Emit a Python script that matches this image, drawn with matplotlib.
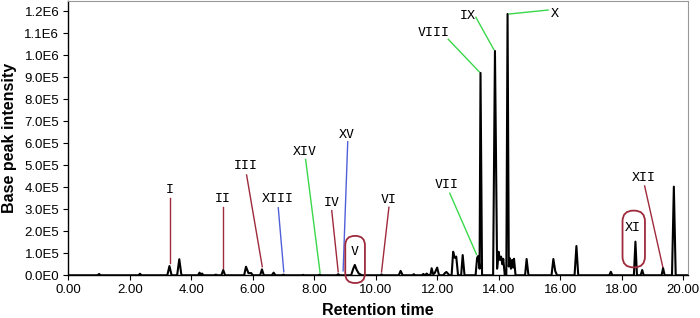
import matplotlib
matplotlib.use("Agg")
import matplotlib.pyplot as plt
from matplotlib.patches import FancyBboxPatch

# chromatogram trace: retention time (min), intensity (x1E5)
trace_t = [0.00, 0.95, 1.00, 1.05, 2.28, 2.33, 2.38, 3.22, 3.29, 3.36, 3.54, 3.61, 3.68,
           4.22, 4.27, 4.31, 4.35, 4.40, 4.75, 4.80, 4.85, 4.98, 5.04, 5.10,
           5.72, 5.78, 5.86, 5.95, 6.00, 6.24, 6.30, 6.36, 6.62, 6.68, 6.74,
           6.95, 7.00, 7.05, 7.60, 7.64, 7.68, 8.13, 8.18, 8.23, 8.73, 8.78, 8.83,
           9.20, 9.27, 9.32, 9.38, 9.45, 9.55, 10.15, 10.19, 10.23, 10.75, 10.81, 10.88,
           11.20, 11.24, 11.28, 11.50, 11.55, 11.60, 11.66, 11.70, 11.76,
           11.78, 11.82, 11.87, 11.92, 12.00, 12.06, 12.20, 12.25, 12.30, 12.40,
           12.47, 12.52, 12.57, 12.62, 12.68, 12.78, 12.83, 12.89,
           13.25, 13.30, 13.34, 13.38, 13.41, 13.46, 13.82, 13.88, 13.95,
           14.00, 14.04, 14.08, 14.12, 14.15, 14.20, 14.25, 14.29, 14.33,
           14.36, 14.40, 14.44, 14.47, 14.50, 14.55, 14.86, 14.91, 14.97,
           15.72, 15.78, 15.84, 15.90, 16.47, 16.53, 16.59, 17.60, 17.65, 17.70,
           18.40, 18.45, 18.50, 18.62, 18.67, 18.72, 19.30, 19.35, 19.40,
           19.64, 19.70, 19.76, 20.15]
trace_y = [0.00, 0.00, 0.06, 0.00, 0.00, 0.07, 0.00, 0.00, 0.42, 0.00, 0.00, 0.73, 0.00,
           0.00, 0.12, 0.02, 0.08, 0.00, 0.00, 0.03, 0.00, 0.00, 0.24, 0.00,
           0.00, 0.39, 0.10, 0.10, 0.00, 0.00, 0.27, 0.00, 0.00, 0.12, 0.00,
           0.00, 0.03, 0.00, 0.00, 0.02, 0.00, 0.00, 0.03, 0.00, 0.00, 0.05, 0.00,
           0.00, 0.30, 0.47, 0.25, 0.08, 0.00, 0.00, 0.04, 0.00, 0.00, 0.20, 0.00,
           0.00, 0.05, 0.00, 0.00, 0.06, 0.00, 0.08, 0.02, 0.00,
           0.00, 0.32, 0.05, 0.10, 0.35, 0.00, 0.00, 0.10, 0.15, 0.00,
           0.00, 1.07, 0.80, 0.85, 0.00, 0.00, 0.92, 0.00,
           0.00, 0.80, 0.88, 0.30, 9.20, 0.00, 0.00, 10.20, 0.30,
           1.07, 0.70, 0.85, 0.50, 0.75, 0.00, 0.00, 11.88, 0.40,
           0.78, 0.30, 0.70, 0.35, 0.75, 0.00, 0.00, 0.74, 0.00,
           0.00, 0.74, 0.20, 0.00, 0.00, 1.33, 0.00, 0.00, 0.16, 0.00,
           0.00, 1.53, 0.00, 0.00, 0.24, 0.00, 0.00, 0.32, 0.00,
           0.00, 4.03, 0.00, 0.00]

x_ticks = [0, 2, 4, 6, 8, 10, 12, 14, 16, 18, 20]
x_tick_labels = ["0.00", "2.00", "4.00", "6.00", "8.00", "10.00", "12.00", "14.00",
                 "16.00", "18.00", "20.00"]
y_ticks = [0, 1, 2, 3, 4, 5, 6, 7, 8, 9, 10, 11, 12]
y_tick_labels = ["0.0E0", "1.0E5", "2.0E5", "3.0E5", "4.0E5", "5.0E5", "6.0E5", "7.0E5",
                 "8.0E5", "9.0E5", "1.0E6", "1.1E6", "1.2E6"]

# annotations: label, label position, leader line start/end, colour group
ann_labels = ["I", "II", "III", "XIII", "XIV", "XV", "IV", "VI", "VII", "VIII", "IX", "X", "XII"]
ann_text_xy = [(3.31, 3.92), (5.03, 3.47), (5.77, 4.97), (6.82, 3.47), (7.70, 5.62),
               (9.05, 6.42), (8.57, 3.33), (10.41, 3.45), (12.31, 4.15), (11.89, 11.05),
               (13.01, 11.83), (15.83, 11.91), (18.72, 4.45)]
ann_line_from = [(3.31, 3.51), (5.03, 3.10), (5.80, 4.56), (6.83, 3.07), (7.72, 5.27),
                 (9.09, 6.07), (8.57, 2.94), (10.43, 3.09), (12.41, 3.73), (12.36, 10.73),
                 (13.26, 11.73), (14.34, 11.88), (18.75, 4.06)]
ann_line_to = [(3.31, 0.56), (5.03, 0.33), (6.31, 0.39), (7.01, 0.16), (8.19, 0.12),
               (8.94, 0.20), (8.78, 0.16), (10.19, 0.15), (13.28, 0.95), (13.37, 9.25),
               (13.84, 10.27), (15.61, 12.06), (19.35, 0.32)]
ann_group = ["red", "red", "red", "blue", "green", "blue", "red", "red", "green", "green",
             "green", "green", "red"]

# circled peaks: label, label position, box (x0, y0, x1, y1)
circ_labels = ["V", "XI"]
circ_text_xy = [(9.32, 1.06), (18.37, 2.18)]
circ_boxes = [(9.01, -0.35, 9.65, 1.79), (18.03, 0.36, 18.76, 2.94)]

colors = {"red": "#9e2a3c", "blue": "#5060d8", "green": "#3ad84a"}

scale = 1e5
fig = plt.figure(figsize=(7.0, 3.18), dpi=100)
ax = fig.add_axes([0.0976, 0.1343, 0.8848, 0.8625])

ax.plot(trace_t, [v * scale for v in trace_y], color="black", lw=1.5, zorder=3)

xlim = (0, 20.15)
ylim = (0, 12.47 * scale)
ax.set_xlim(*xlim)
ax.set_ylim(*ylim)

for lab, txy, p0, p1, g in zip(ann_labels, ann_text_xy, ann_line_from, ann_line_to, ann_group):
    ax.plot([p0[0], p1[0]], [p0[1] * scale, p1[1] * scale], color=colors[g], lw=1.0, zorder=2)
    ax.text(txy[0], txy[1] * scale, lab, ha="center", va="center", fontsize=9.5,
            family="DejaVu Sans Mono", color="black")

# rounded boxes (keep round corners despite unequal axis scales)
ax_w_px = 0.8848 * 700
ax_h_px = 0.8625 * 318
aspect = ((ylim[1] - ylim[0]) / ax_h_px) / ((xlim[1] - xlim[0]) / ax_w_px)
for lab, txy, b in zip(circ_labels, circ_text_xy, circ_boxes):
    w = b[2] - b[0]
    box = FancyBboxPatch((b[0], b[1] * scale), w, (b[3] - b[1]) * scale,
                         boxstyle="round,pad=0,rounding_size=%f" % (w * 0.48),
                         mutation_aspect=aspect, fc="none", ec=colors["red"], lw=1.3,
                         clip_on=False, zorder=4)
    ax.add_patch(box)
    ax.text(txy[0], txy[1] * scale, lab, ha="center", va="center", fontsize=9.5,
            family="DejaVu Sans Mono", color="black")

ax.set_xticks(x_ticks)
ax.set_xticklabels(x_tick_labels, family="Liberation Sans", fontsize=9.5)
ax.set_yticks([v * scale for v in y_ticks])
ax.set_yticklabels(y_tick_labels, family="Liberation Sans", fontsize=9.5)
ax.tick_params(direction="out", length=3.5, width=0.8, pad=3)

ax.set_xlabel("Retention time", family="Liberation Sans", fontweight="bold", fontsize=11.5)
ax.set_ylabel("Base peak intensity", family="Liberation Sans", fontweight="bold", fontsize=11.5)
ax.xaxis.set_label_coords(0.5, -0.10)
ax.yaxis.set_label_coords(-0.083, 0.5)

for s in ["top", "right"]:
    ax.spines[s].set_color("#999999")
for s in ["left", "bottom"]:
    ax.spines[s].set_color("black")
    ax.spines[s].set_linewidth(1.0)

fig.savefig("out.png", dpi=100)
